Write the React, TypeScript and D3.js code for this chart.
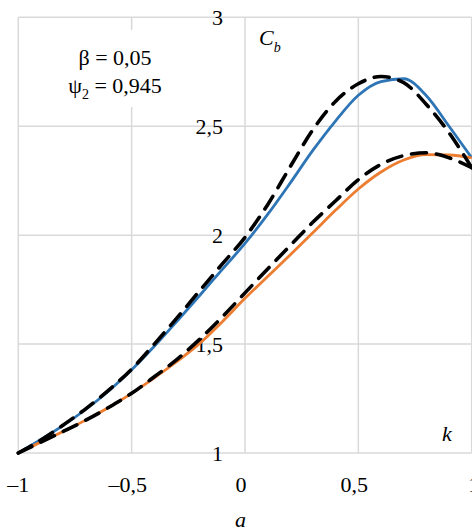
import React from "react";
import * as d3 from "d3";

const xValues = [-1, -0.9, -0.8, -0.7, -0.6, -0.5, -0.4, -0.3, -0.2, -0.1, 0, 0.1, 0.2, 0.3, 0.4, 0.5, 0.6, 0.7, 0.8, 0.9, 1];
const blueSeries = [1.0, 1.062, 1.128, 1.202, 1.286, 1.382, 1.49, 1.605, 1.723, 1.843, 1.962, 2.095, 2.24, 2.39, 2.525, 2.642, 2.705, 2.718, 2.64, 2.5, 2.355];
const orangeSeries = [1.0, 1.05, 1.1, 1.152, 1.21, 1.274, 1.345, 1.42, 1.503, 1.603, 1.71, 1.81, 1.91, 2.012, 2.115, 2.212, 2.29, 2.345, 2.37, 2.368, 2.355];
const upperDashed = [1.0, 1.06, 1.13, 1.205, 1.29, 1.385, 1.5, 1.62, 1.745, 1.868, 1.99, 2.14, 2.315, 2.485, 2.615, 2.695, 2.728, 2.7, 2.6, 2.47, 2.31];
const lowerDashed = [1.0, 1.05, 1.1, 1.152, 1.21, 1.274, 1.35, 1.43, 1.522, 1.625, 1.735, 1.845, 1.953, 2.06, 2.158, 2.255, 2.325, 2.365, 2.378, 2.355, 2.31];
const xTicks = [-1, -0.5, 0, 0.5, 1];
const xTickLabels = ["–1", "–0,5", "0", "0,5", "1"];
const yTicks = [1, 1.5, 2, 2.5, 3];
const yTickLabels = ["1", "1,5", "2", "2,5", "3"];

const W = 472;
const H = 530;
const FONT = '"Liberation Serif"';

export default function App() {
  const x = d3.scaleLinear().domain([-1, 1]).range([18.3, 471.7]);
  const y = d3.scaleLinear().domain([1, 3]).range([453, 17.3]);
  const line = (vals: number[]) =>
    d3
      .line<number>()
      .x((_, i) => x(xValues[i]))
      .y((d) => y(d))
      .curve(d3.curveMonotoneX)(vals) || "";
  const ts = { fontFamily: FONT };

  return (
    <svg width={W} height={H} style={{ position: "absolute", left: 0, top: 0, background: "#fff" }}>
      <rect x={0} y={0} width={W} height={H} fill="#fff" />
      {xTicks.map((t) => (
        <line key={"gx" + t} x1={x(t)} x2={x(t)} y1={y(1)} y2={y(3)} stroke="#d9d9d9" strokeWidth={1.5} />
      ))}
      {yTicks.map((t) => (
        <line key={"gy" + t} x1={x(-1)} x2={x(1)} y1={y(t)} y2={y(t)} stroke="#d9d9d9" strokeWidth={1.5} />
      ))}
      <rect x={58} y={30} width={116} height={77} fill="#fff" />
      <text style={ts} x={115} y={65} fontSize={22} textAnchor="middle" fill="#000">
        β = 0,05
      </text>
      <text style={ts} x={115} y={93} fontSize={22} textAnchor="middle" fill="#000">
        ψ<tspan fontSize={14} dy={6}>2</tspan>
        <tspan dy={-6}> = 0,945</tspan>
      </text>
      {yTicks.map((t, i) => (
        <text style={ts} key={"yl" + t} x={223} y={y(t) + 7.5} fontSize={22} textAnchor="end" fill="#000">
          {yTickLabels[i]}
        </text>
      ))}
      {xTicks.map((t, i) => (
        <text style={ts} key={"xl" + t} x={x(t) - (i === 0 ? 0 : i === 4 ? -2 : 4)} y={492} fontSize={22} textAnchor="middle" fill="#000">
          {xTickLabels[i]}
        </text>
      ))}
      <text style={ts} x={259} y={45} fontSize={22} fontStyle="italic" fill="#000">
        C<tspan fontSize={14} dy={7}>b</tspan>
      </text>
      <text style={ts} x={442} y={441} fontSize={22} fontStyle="italic" fill="#000">
        k
      </text>
      <text style={ts} x={235} y={527} fontSize={22} fontStyle="italic" fill="#000">
        a
      </text>
      <path d={line(blueSeries)} fill="none" stroke="#2E75B6" strokeWidth={2.8} />
      <path d={line(orangeSeries)} fill="none" stroke="#ED7D31" strokeWidth={2.8} />
      <path d={line(upperDashed)} fill="none" stroke="#000" strokeWidth={3.6} strokeDasharray="15 10" strokeLinecap="round" />
      <path d={line(lowerDashed)} fill="none" stroke="#000" strokeWidth={3.6} strokeDasharray="15 10" strokeLinecap="round" />
    </svg>
  );
}
